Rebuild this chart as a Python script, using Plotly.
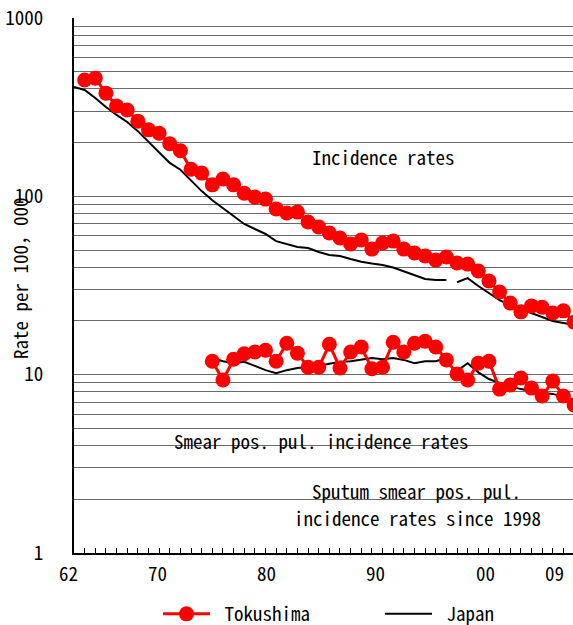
import plotly.graph_objects as go

# ---- data ----
toku_years = list(range(1963, 2010))
toku_incidence = [449, 460, 379, 321, 305, 264, 236, 226, 197, 180,
                  142, 135, 116, 125, 116, 104, 99, 96.5, 85, 80.6,
                  81.6, 71.8, 67.3, 62.3, 58.4, 54, 56.9, 50.6, 54.7, 56.1,
                  50.6, 48.1, 46.3, 43.9, 45.7, 42.3, 41.7, 38.1, 33.5, 29.1,
                  25.2, 22.5, 24.3, 23.9, 22.2, 22.8, 19.7]

toku_smear_years = list(range(1975, 2010))
toku_smear = [11.9, 9.33, 12.2, 13.1, 13.4, 13.7, 11.9, 15.0, 13.2, 11.0,
              11.0, 14.8, 10.9, 13.4, 14.3, 10.8, 11.0, 15.2, 13.4, 15.0,
              15.4, 14.3, 12.1, 10.1, 9.33, 11.6, 11.9, 8.3, 8.75, 9.57,
              8.41, 7.59, 9.2, 7.59, 6.76]

japan_inc_years_old = list(range(1962, 1998))
japan_inc_old = [410, 395, 356, 317, 286, 261, 232, 202, 177, 154,
                 141, 122, 107, 95, 86, 77.6, 70, 65.6, 61.5, 56.1,
                 54, 52, 51.3, 48.7, 46.9, 46.3, 44.5, 43, 42, 41.2,
                 39.9, 38.1, 36.2, 34.4, 33.9, 33.9]
japan_inc_years_new = list(range(1998, 2010))
japan_inc_new = [33.0, 34.8, 31.4, 28.7, 26.2, 24.5, 23.3, 22.2, 21.1, 20.0, 19.5, 19.0]

japan_smear_years_old = list(range(1975, 1998))
japan_smear_old = [12.4, 11.9, 11.6, 11.8, 11.2, 10.6, 10.2, 10.6, 10.9, 11.0,
                   11.2, 11.5, 11.8, 11.9, 12.1, 12.4, 12.2, 12.4, 12.1, 11.6,
                   11.9, 11.9, 12.4]
japan_smear_years_new = list(range(1998, 2010))
japan_smear_new = [10.5, 11.6, 10.3, 9.45, 8.97, 8.63, 8.3, 8.1, 7.9, 7.8, 7.5, 7.2]

x_tick_labels = ["62", "70", "80", "90", "00", "09"]
y_tick_vals = [1, 10, 100, 1000]
y_tick_labels = ["1", "10", "100", "1000"]

FONT = "Noto Sans Mono CJK JP, Noto Sans CJK JP, monospace"
RED = "#FF0000"
FS = 19

fig = go.Figure()

red_style = dict(mode="lines+markers", line=dict(color=RED, width=3),
                 marker=dict(color=RED, size=15, line=dict(width=0)))
black_style = dict(mode="lines", line=dict(color="black", width=2))

fig.add_trace(go.Scatter(x=japan_inc_years_old, y=japan_inc_old, name="\u00a0Japan",
                         legendgroup="j", legendrank=2, showlegend=True, **black_style))
fig.add_trace(go.Scatter(x=japan_inc_years_new, y=japan_inc_new, name="Japan",
                         legendgroup="j", showlegend=False, **black_style))
fig.add_trace(go.Scatter(x=japan_smear_years_old, y=japan_smear_old, name="Japan",
                         legendgroup="j", showlegend=False, **black_style))
fig.add_trace(go.Scatter(x=japan_smear_years_new, y=japan_smear_new, name="Japan",
                         legendgroup="j", showlegend=False, **black_style))
fig.add_trace(go.Scatter(x=toku_years, y=toku_incidence, name="\u00a0Tokushima",
                         legendgroup="t", legendrank=1, showlegend=True, **red_style))
fig.add_trace(go.Scatter(x=toku_smear_years, y=toku_smear, name="Tokushima",
                         legendgroup="t", showlegend=False, **red_style))

grid = "#6a6a6a"
L, T, W, H = 74, 18, 499, 535
fig.update_layout(
    width=573, height=625,
    margin=dict(l=L, r=573 - L - W, t=T, b=625 - T - H, autoexpand=False),
    paper_bgcolor="white", plot_bgcolor="white",
    font=dict(family=FONT, size=FS, color="black"),
    showlegend=True,
    legend=dict(orientation="h", xref="container", yref="container",
                x=158 / 573, xanchor="left", y=1 - 614 / 625, yanchor="middle",
                font=dict(size=FS), itemwidth=47, traceorder="normal",
                entrywidth=160, entrywidthmode="pixels", bgcolor="rgba(0,0,0,0)"),
    xaxis=dict(range=[1962, 2008.9], showgrid=False, zeroline=False, automargin=False,
               showline=True, linecolor="black", linewidth=2,
               tickmode="linear", tick0=1962, dtick=1, ticks="inside",
               ticklen=5, tickwidth=1, tickcolor="black", showticklabels=False),
    yaxis=dict(type="log", range=[0, 3], showline=True, linecolor="black", linewidth=2,
               automargin=False,
               tickvals=y_tick_vals, ticktext=y_tick_labels, ticks="",
               ticklabelstandoff=25,
               showgrid=True, gridcolor=grid, gridwidth=1, zeroline=False,
               minor=dict(tickvals=[m * d for d in (1, 10, 100) for m in range(2, 10)],
                          showgrid=True, gridcolor=grid, gridwidth=1, ticks="")),
)

def px2paper(px, py):
    return (px - L) / W, (T + H - py) / H

def note(txt, px, py, **kw):
    xx, yy = px2paper(px, py)
    fig.add_annotation(x=xx, y=yy, xref="paper", yref="paper", text=txt,
                       xanchor="center", yanchor="middle", showarrow=False,
                       font=dict(size=FS), **kw)

# x tick labels (placed like the reference)
label_px = [68, 157, 266, 375, 485, 554]
for lab, xp in zip(x_tick_labels, label_px):
    note(lab, xp, 572)

# axis title
note("Rate per 100，000", 19, 278, textangle=-90)

note("Incidence rates", 383, 156)
note("Smear pos. pul. incidence rates", 321, 441)
note("Sputum smear pos. pul.", 416, 491)
note("incidence rates since 1998", 417, 517)

fig.write_html("out.html", config={"responsive": False, "displayModeBar": False},
               post_script="document.body.style.margin='0';"
                           "document.body.style.overflow='hidden';")
